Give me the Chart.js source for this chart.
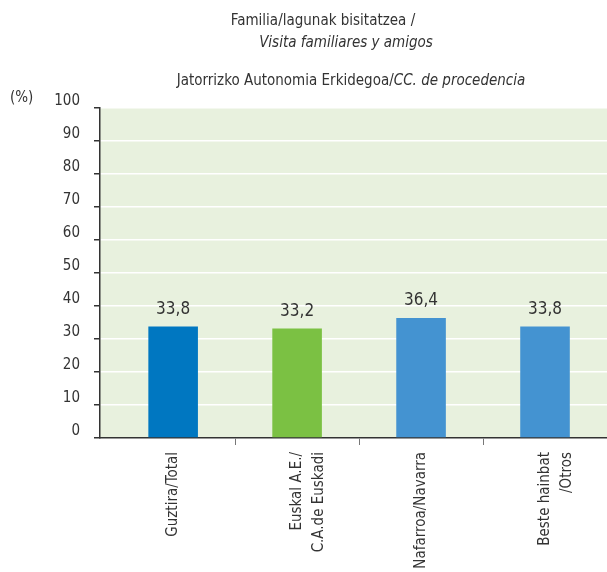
<!DOCTYPE html>
<html>
<head>
<meta charset="utf-8">
<script src="https://cdn.jsdelivr.net/npm/chart.js@4/dist/chart.umd.min.js"></script>
<style>
  html, body { margin: 0; padding: 0; background: #fff; overflow: hidden; }
  #wrap { position: relative; width: 607px; height: 572px; }
  .t {
    position: absolute; white-space: nowrap; transform: translateX(-50%);
    font-family: 'DejaVu Sans Condensed', 'Liberation Sans Narrow', sans-serif;
    font-size: 15px; color: #333; line-height: 18px;
  }
  .t i { font-style: italic; }
  #unit { position: absolute; left: 10px; top: 88px; font-family: 'DejaVu Sans Condensed', sans-serif; font-size: 15px; color: #333; }
  canvas { position: absolute; left: 0; top: 0; }
</style>
</head>
<body>
<div id="wrap">
  <canvas id="chart" width="607" height="572"></canvas>
  <div class="t" style="left:323px; top:11px;">Familia/lagunak bisitatzea /</div>
  <div class="t" style="left:346px; top:33px;"><i>Visita familiares y amigos</i></div>
  <div class="t" style="left:351px; top:71px;">Jatorrizko Autonomia Erkidegoa/<i>CC. de procedencia</i></div>
  <div id="unit">(%)</div>
</div>
<script>
const categories = [
  "Guztira/Total",
  ["Euskal A.E./", "C.A.de Euskadi"],
  "Nafarroa/Navarra",
  ["Beste hainbat", "/Otros"]
];
const values = [33.8, 33.2, 36.4, 33.8];
const barColors = ["#0077c1", "#7bc143", "#4493d1", "#4493d1"];
const yTicks = [0, 10, 20, 30, 40, 50, 60, 70, 80, 90, 100];

const FONT = "'DejaVu Sans Condensed', 'Liberation Sans Narrow', sans-serif";

// green plot background
const plotBg = {
  id: "plotBg",
  beforeDraw(chart) {
    const { ctx, chartArea: a } = chart;
    ctx.save();
    ctx.fillStyle = "#e8f1de";
    ctx.fillRect(a.left, a.top, a.right - a.left, a.bottom - a.top);
    ctx.restore();
  }
};

// value labels above the bars
const valueLabels = {
  id: "valueLabels",
  afterDatasetsDraw(chart) {
    const { ctx } = chart;
    const meta = chart.getDatasetMeta(0);
    ctx.save();
    ctx.font = "17px " + FONT;
    ctx.fillStyle = "#333";
    ctx.textAlign = "center";
    ctx.textBaseline = "middle";
    meta.data.forEach((bar, i) => {
      ctx.fillText(values[i].toFixed(1).replace(".", ","), bar.x, bar.y - 17);
    });
    ctx.restore();
  }
};

new Chart(document.getElementById("chart"), {
  type: "bar",
  data: {
    datasets: [{
      data: values.map((v, i) => ({ x: i, y: v })),
      backgroundColor: barColors,
      borderWidth: 0,
      barPercentage: 0.4,
      categoryPercentage: 1
    }]
  },
  options: {
    responsive: false,
    animation: false,
    layout: { padding: { top: 108, left: 0, right: 0, bottom: 0 } },
    plugins: { legend: { display: false }, tooltip: { enabled: false } },
    scales: {
      x: {
        type: "linear",
        min: -0.59,
        max: 3.5,
        bounds: "data",
        offset: false,
        afterBuildTicks: (s) => { s.ticks = categories.map((c, i) => ({ value: i })); },
        afterFit: (s) => { s.height = 134; s.paddingLeft = 0; s.paddingRight = 0; },
        border: { color: "#333", width: 1.5 },
        grid: {
          offset: true,
          drawOnChartArea: false,
          tickLength: 7,
          tickColor: (c) => (c.index === 0 ? "rgba(0,0,0,0)" : "#777")
        },
        ticks: {
          autoSkip: false,
          minRotation: 90,
          maxRotation: 90,
          padding: 7,
          color: "#333",
          font: { family: FONT, size: 15, lineHeight: 1.45 },
          callback: (v) => categories[v] ?? ""
        }
      },
      y: {
        min: 0,
        max: 100,
        afterFit: (s) => { s.width = 100; },
        afterBuildTicks: (s) => { s.ticks = yTicks.map((v) => ({ value: v })); },
        border: { color: "#333", width: 1.5 },
        grid: { color: "#fff", lineWidth: 1.5, tickColor: "#333", tickLength: 6 },
        ticks: {
          padding: 14,
          labelOffset: -7,
          color: "#333",
          font: { family: FONT, size: 15 }
        }
      }
    }
  },
  plugins: [plotBg, valueLabels]
});
</script>
</body>
</html>
